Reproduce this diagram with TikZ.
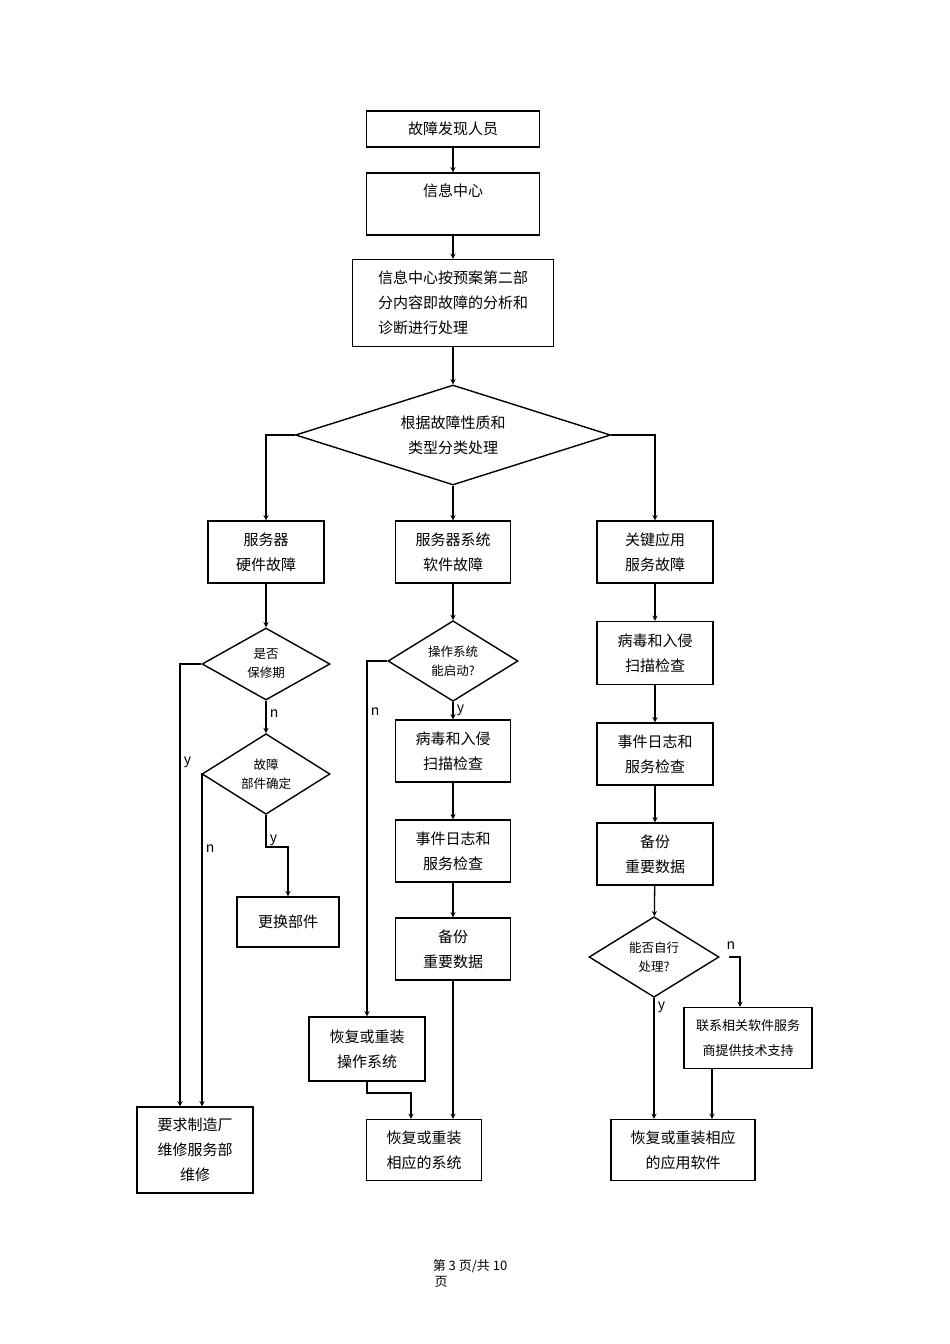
\documentclass[tikz,border=0pt]{standalone}
\usepackage{fontspec}
\setmainfont{Noto Sans CJK SC}
\usetikzlibrary{shapes.geometric}
\tikzset{
  box/.style={draw, line width=1.4pt, inner sep=0pt, align=center, font=\fontsize{15}{25}\selectfont},
  dec/.style={draw, diamond, line width=1.4pt, inner sep=0pt, align=center, font=\fontsize{12.5}{19}\selectfont},
  arr/.style={-stealth, line width=1.3pt},
  lab/.style={font=\fontsize{14}{16}\selectfont}
}
\begin{document}
\begin{tikzpicture}[x=1pt,y=-1pt]
  \useasboundingbox (0,0) rectangle (950,1344);
  % top column
  \node[box, minimum width=173pt, minimum height=36pt] (find) at (453,129) {故障发现人员};
  \node[box, minimum width=173pt, minimum height=62pt] (info) at (453,204) {};
  \node at (453,191) {\fontsize{15}{25}\selectfont 信息中心};
  \node[box, minimum width=201pt, minimum height=87pt, align=left] (plan) at (453,303) {信息中心按预案第二部\\分内容即故障的分析和\\诊断进行处理};
  \node[dec, aspect=3.15, minimum width=315pt, minimum height=100pt, font=\fontsize{15}{25}\selectfont] (sort) at (453,435) {根据故障性质和\\类型分类处理};
  % three branches
  \node[box, minimum width=116pt, minimum height=62pt] (hw) at (266,552) {服务器\\硬件故障};
  \node[box, minimum width=115pt, minimum height=62pt] (sw) at (453,552) {服务器系统\\软件故障};
  \node[box, minimum width=116pt, minimum height=62pt] (app) at (655,552) {关键应用\\服务故障};
  % hardware
  \node[dec, minimum width=128pt, minimum height=72pt] (warr) at (266,664) {是否\\保修期};
  \node[dec, minimum width=128pt, minimum height=72pt] (part) at (266,774) {故障\\部件确定};
  \node[box, minimum width=102pt, minimum height=50pt] (swap) at (288,922) {更换部件};
  \node[box, minimum width=116pt, minimum height=86pt] (maker) at (195,1150) {要求制造厂\\维修服务部\\维修};
  % system software
  \node[dec, minimum width=130pt, minimum height=74pt] (boot) at (453,661) {操作系统\\能启动?};
  \node[box, minimum width=115pt, minimum height=62pt] (scan) at (453,751) {病毒和入侵\\扫描检查};
  \node[box, minimum width=115pt, minimum height=62pt] (log) at (453,851) {事件日志和\\服务检查};
  \node[box, minimum width=115pt, minimum height=62pt] (bak) at (453,949) {备份\\重要数据};
  \node[box, minimum width=116pt, minimum height=64pt] (os) at (367,1049) {恢复或重装\\操作系统};
  \node[box, minimum width=115pt, minimum height=61pt] (sys) at (424,1150) {恢复或重装\\相应的系统};
  % application
  \node[box, minimum width=116pt, minimum height=63pt] (scan2) at (655,653) {病毒和入侵\\扫描检查};
  \node[box, minimum width=116pt, minimum height=62pt] (log2) at (655,754) {事件日志和\\服务检查};
  \node[box, minimum width=116pt, minimum height=62pt] (bak2) at (655,854) {备份\\重要数据};
  \node[dec, minimum width=130pt, minimum height=75pt] (self) at (654,957) {能否自行\\处理?};
  \node[box, minimum width=128pt, minimum height=61pt, font=\fontsize{13}{25}\selectfont] (vendor) at (748,1038) {联系相关软件服务\\商提供技术支持};
  \node[box, minimum width=144pt, minimum height=61pt] (appsw) at (683,1150) {恢复或重装相应\\的应用软件};
  % connectors
  \draw[arr] (find) -- (info);
  \draw[arr] (info) -- (plan);
  \draw[arr] (plan) -- (sort);
  \draw[arr] (sort.west) -| (hw.north);
  \draw[arr] (sort) -- (sw);
  \draw[arr] (sort.east) -| (app.north);
  \draw[arr] (hw) -- (warr);
  \draw[arr] (warr) -- node[lab, right, pos=0.4] {n} (part);
  \draw[arr] (warr.west) -| node[lab, below right, pos=0.6] {y} (maker.north -| 180,0);
  \draw[arr] (part.west) -| node[lab, below right, pos=0.6] {n} (maker.north -| 202,0);
  \draw[arr] (part.south) |- node[lab, right, pos=0.4] {y} (288,847) -- (swap);
  \draw[arr] (sw) -- (boot);
  \draw[arr] (boot) -- node[lab, right] {y} (scan);
  \draw[arr] (scan) -- (log);
  \draw[arr] (log) -- (bak);
  \draw[arr] (boot.west) -| node[lab, below right, pos=0.56] {n} (os.north);
  \draw[arr] (os.south) |- (411,1093) -- (sys.north -| 411,0);
  \draw[arr] (bak) -- (sys.north -| bak);
  \draw[arr] (app) -- (scan2);
  \draw[arr] (scan2) -- (log2);
  \draw[arr] (log2) -- (bak2);
  \draw[arr] (bak2) -- (self);
  \node[lab] (nlab) at (731,946) {n};
  \draw[arr] (729,957) -| (vendor.north -| 740,0);
  \draw[arr] (self.south) -- node[lab, right, pos=0.08] {y} (appsw.north -| self);
  \draw[arr] (vendor.south -| 712,0) -- (appsw.north -| 712,0);
  % footer
  \node[font=\fontsize{13}{15}\selectfont] (pg) at (470,1266) {第 3 页/共 10};
  \node[font=\fontsize{13}{15}\selectfont] (pg2) at (441,1282) {页};
\end{tikzpicture}
\end{document}
